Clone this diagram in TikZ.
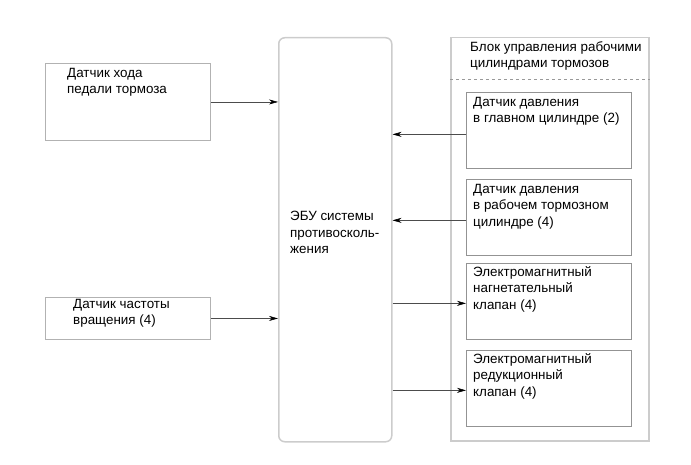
\documentclass[tikz,border=0pt]{standalone}
\usepackage{fontspec}
\setmainfont{Liberation Sans}
\usetikzlibrary{positioning,arrows.meta}

\tikzset{
    blk/.style={draw=gray!60, line width=0.9pt, minimum width=165pt, anchor=north west, inner sep=0pt},
    sub/.style={draw=gray!85, line width=0.7pt, minimum width=165pt, minimum height=76pt, anchor=north west, inner sep=0pt},
    big/.style={draw=gray!40, line width=1.5pt, anchor=north west, inner sep=0pt},
    txt/.style={anchor=north west, align=left, inner sep=0pt, font=\fontsize{13.4}{16.5}\selectfont},
    arr/.style={draw=black!70, line width=0.5pt, -{Stealth[length=9pt,width=5pt,black]}}
}

\begin{document}
\begin{tikzpicture}[x=1pt, y=-1pt]
        \useasboundingbox (0,0) rectangle (691,465);

        % ~~~~ Bloques ~~~~%
        \node[big, rounded corners=6pt, minimum width=113pt, minimum height=404pt] (ecu) at (278,37) {};
        \node[big, minimum width=198pt, minimum height=403pt] (unit) at (450,37) {};
        \draw[gray!80, dashed, line width=0.6pt] (unit.west |- 0,79) coordinate (dl) -- (unit.east |- dl);

        \node[blk, minimum height=77pt] (pedal) at (45,63) {};
        \node[blk, minimum height=42pt] (wheel) at (45,297) {};

        \node[sub] (pmain) at (466,92) {};
        \node[sub] (pwork) at (466,179) {};
        \node[sub] (vin) at (466,263) {};
        \node[sub] (vout) at (466,350) {};

        % ~~~~ Textos ~~~~%
        \node[txt] (ecutxt) at ([xshift=12pt, yshift=-174pt]ecu.north west) {ЭБУ системы\\противосколь-\\жения};
        \node[txt] (unittxt) at ([xshift=20pt, yshift=-4pt]unit.north west) {Блок управления рабочими\\цилиндрами тормозов};
        \node[txt] (pedaltxt) at ([xshift=22pt, yshift=-5pt]pedal.north west) {Датчик хода\\педали тормоза};
        \node[txt] (wheeltxt) at ([xshift=28pt, yshift=-2pt]wheel.north west) {Датчик частоты\\вращения (4)};
        \node[txt] (pmaintxt) at ([xshift=7pt, yshift=-5pt]pmain.north west) {Датчик давления\\в главном цилиндре (2)};
        \node[txt] (pworktxt) at ([xshift=7pt, yshift=-5pt]pwork.north west) {Датчик давления\\в рабочем тормозном\\цилиндре (4)};
        \node[txt] (vintxt) at ([xshift=7pt, yshift=-3pt]vin.north west) {Электромагнитный\\нагнетательный\\клапан (4)};
        \node[txt] (vouttxt) at ([xshift=7pt, yshift=-3pt]vout.north west) {Электромагнитный\\редукционный\\клапан (4)};

        % ~~~~ Conexiones ~~~~%
        \draw[arr] (pedal.east) -- (pedal.east -| ecu.west);
        \draw[arr] (wheel.east) -- (wheel.east -| ecu.west);
        \draw[arr] ([yshift=-4pt]pmain.west) -- ([yshift=-4pt]pmain.west -| ecu.east);
        \draw[arr] ([yshift=-3pt]pwork.west) -- ([yshift=-3pt]pwork.west -| ecu.east);
        \draw[arr] ([yshift=-2pt]vin.west -| ecu.east) -- ([yshift=-2pt]vin.west);
        \draw[arr] ([yshift=-2pt]vout.west -| ecu.east) -- ([yshift=-2pt]vout.west);
    \end{tikzpicture}
\end{document}
